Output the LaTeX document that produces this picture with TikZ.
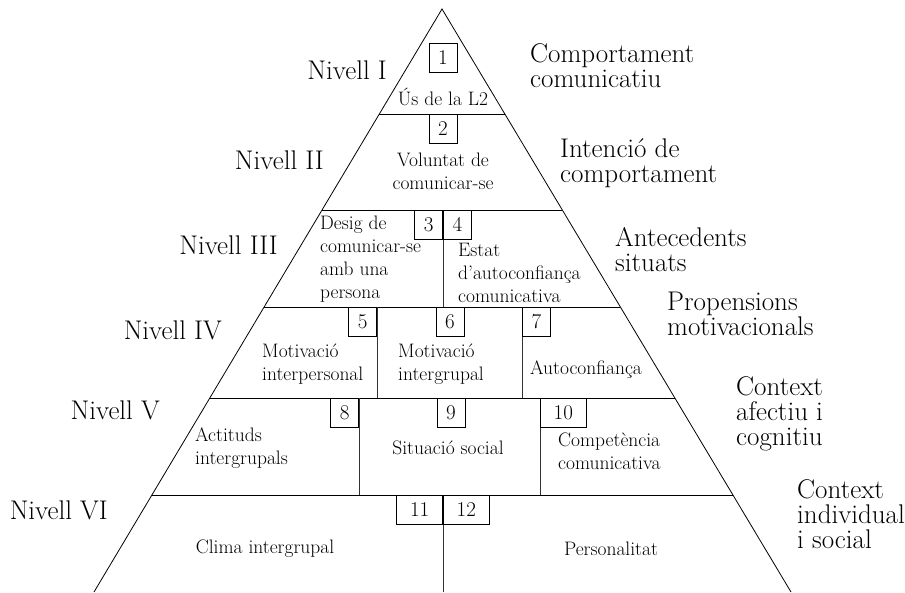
\documentclass[tikz,border=0pt]{standalone}
\usepackage{tikz}
\usetikzlibrary{calc,positioning}
\tikzset{
  lvl/.style={font=\fontsize{27}{25}\selectfont, inner sep=0pt, anchor=east},
  ctx/.style={font=\fontsize{27}{25}\selectfont, align=left, inner sep=0pt, anchor=west},
  cell/.style={font=\fontsize{19.5}{23}\selectfont, align=left, inner sep=0pt},
  numbox/.style={draw, line width=0.7pt, minimum width=28pt, minimum height=29pt, inner sep=0pt, font=\fontsize{21}{21}\selectfont},
  widebox/.style={numbox, minimum width=46pt},
  divider/.style={line width=0.7pt, draw=black!80},
  edge line/.style={line width=0.8pt}
}

\begin{document}
\begin{tikzpicture}[x=1pt,y=-1pt]
  \useasboundingbox (0,0) rectangle (905,592);
  \coordinate (apex) at (442,9);
  \coordinate (bl) at (94,592);
  \coordinate (br) at (791,592);
  \draw[edge line] (bl) -- (apex) -- (br);
  \foreach \y/\n in {114/1,210/2,307/3,398/4,495/5}
    \draw[edge line] ($(apex)!{(\y-9)/583}!(bl)$) coordinate (l\n)
      -- ($(apex)!{(\y-9)/583}!(br)$) coordinate (r\n);

  \draw[divider] (443,210) -- (443,307);
  \draw[divider] (377,307) -- (377,398);
  \draw[divider] (522,307) -- (522,398);
  \draw[divider] (359,398) -- (359,495);
  \draw[divider] (540,398) -- (540,495);
  \draw[divider] (443,495) -- (443,592);

  \node[numbox] (b1) at (443,58) {1};
  \node[numbox, anchor=north] (b2) at (443,114) {2};
  \node[numbox, anchor=north east] (b3) at (443,210) {3};
  \node[numbox, anchor=north west] (b4) at (443,210) {4};
  \node[numbox, anchor=north east] (b5) at (377,307) {5};
  \node[numbox, anchor=north] (b6) at (450,307) {6};
  \node[numbox, anchor=north west] (b7) at (522,307) {7};
  \node[numbox, anchor=north east] (b8) at (359,398) {8};
  \node[numbox, anchor=north] (b9) at (451,398) {9};
  \node[widebox, anchor=north west] (b10) at (540,398) {10};
  \node[widebox, anchor=north east] (b11) at (443,495) {11};
  \node[widebox, anchor=north west] (b12) at (443,495) {12};

  \node[cell] (us) at (443,97) {Ús de la L2};
  \node[cell, align=center] (volu) at (443,171) {Voluntat de\\comunicar-se};
  \node[cell, anchor=west] (desig) at (320,259) {Desig de\\comunicar-se\\amb una\\persona};
  \node[cell, anchor=west] (estat) at (458,273) {Estat\\d’autoconfiança\\comunicativa};
  \node[cell, anchor=west] (minter) at (262,364) {Motivació\\interpersonal};
  \node[cell, anchor=west] (mgrup) at (398,364) {Motivació\\intergrupal};
  \node[cell, anchor=west] (auto) at (530,370) {Autoconfiança};
  \node[cell, anchor=west] (actit) at (195,448) {Actituds\\intergrupals};
  \node[cell] (situ) at (448,448) {Situació social};
  \node[cell, anchor=west] (compet) at (558,451) {Competència\\comunicativa};
  \node[cell] (clima) at (265,549) {Clima intergrupal};
  \node[cell] (perso) at (611,549) {Personalitat};

  \node[lvl] (n1) at (387,70) {Nivell I};
  \node[lvl] (n2) at (324,160) {Nivell II};
  \node[lvl] (n3) at (278,245) {Nivell III};
  \node[lvl] (n4) at (222,330) {Nivell IV};
  \node[lvl] (n5) at (160,410) {Nivell V};
  \node[lvl] (n6) at (108,510) {Nivell VI};

  \node[ctx] (c1) at (530,66) {Comportament\\comunicatiu};
  \node[ctx] (c2) at (560,163) {Intenció de\\comportament};
  \node[ctx] (c3) at (615,250) {Antecedents\\situats};
  \node[ctx] (c4) at (667,314) {Propensions\\motivacionals};
  \node[ctx] (c5) at (736,414) {Context\\afectiu i\\cognitiu};
  \node[ctx] (c6) at (797,514) {Context\\individual\\i social};
\end{tikzpicture}
\end{document}
